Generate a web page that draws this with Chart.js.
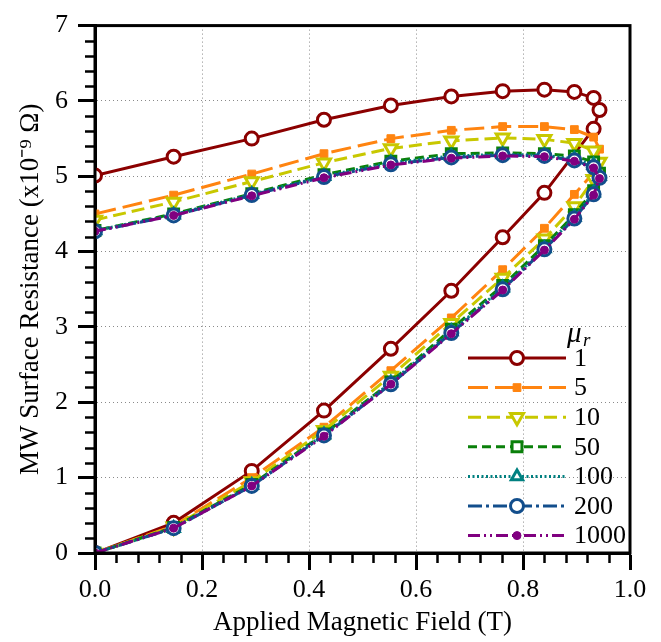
<!DOCTYPE html>
<html>
<head>
<meta charset="utf-8">
<title>MW surface resistance vs applied field</title>
<script src="https://cdn.jsdelivr.net/npm/chart.js@4.4.1/dist/chart.umd.min.js"></script>
<style>
  html, body { margin: 0; padding: 0; background: #fff; }
  #wrap { width: 661px; height: 642px; }
</style>
</head>
<body>
<div id="wrap"><canvas id="chart" width="661" height="642"></canvas></div>
<script>
// Field sweep: up the lower branch to the turning point, then back down the upper branch.
const FIELD = [0, 0.147, 0.293, 0.428, 0.553, 0.666, 0.762, 0.840, 0.896, 0.932, 0.943,
  0.932, 0.896, 0.840, 0.762, 0.666, 0.553, 0.428, 0.293, 0.147, 0];

const MU_R = ['1', '5', '10', '50', '100', '200', '1000'];

// Surface resistance (x1e-9 ohm), same order as FIELD
const RS_MU1 = [0, 0.40, 1.09, 1.89, 2.71, 3.48, 4.19, 4.78, null, 5.63, 5.88,
  6.04, 6.12, 6.15, 6.13, 6.06, 5.94, 5.75, 5.50, 5.26, 5.01];
const RS_MU5 = [0, 0.36, 1.00, 1.67, 2.42, 3.12, 3.76, 4.31, 4.76, 5.05, 5.36,
  5.52, 5.62, 5.66, 5.66, 5.61, 5.50, 5.30, 5.03, 4.75, 4.50];
const RS_MU10 = [0, 0.35, 0.95, 1.63, 2.35, 3.05, 3.65, 4.17, 4.60, 4.96, 5.19,
  5.34, 5.44, 5.49, 5.51, 5.47, 5.37, 5.18, 4.93, 4.66, 4.42];
const RS_MU50 = [0, 0.34, 0.91, 1.58, 2.27, 2.97, 3.55, 4.08, 4.49, 4.81, 5.04,
  5.19, 5.27, 5.30, 5.31, 5.30, 5.20, 5.02, 4.77, 4.50, 4.28];
const RS_MU100 = [0, 0.33, 0.90, 1.57, 2.26, 2.94, 3.52, 4.04, 4.46, 4.78, 5.00,
  5.15, 5.23, 5.28, 5.29, 5.27, 5.18, 5.00, 4.76, 4.49, 4.28];
const RS_MU200 = [0, 0.33, 0.89, 1.56, 2.24, 2.92, 3.50, 4.03, 4.44, 4.76, 4.98,
  5.12, 5.21, 5.27, 5.28, 5.25, 5.16, 4.99, 4.75, 4.48, 4.27];
const RS_MU1000 = [0, 0.33, 0.89, 1.55, 2.24, 2.91, 3.49, 4.02, 4.43, 4.75, 4.97,
  5.11, 5.20, 5.26, 5.27, 5.24, 5.15, 4.98, 4.74, 4.48, 4.27];

const SERIES = [RS_MU1, RS_MU5, RS_MU10, RS_MU50, RS_MU100, RS_MU200, RS_MU1000];

const X_TICKS = [0, 0.2, 0.4, 0.6, 0.8, 1.0];
const Y_TICKS = [0, 1, 2, 3, 4, 5, 6, 7];

// ── Styles ────────────────────────────────────────────────────────────────────
const SERIF = "'Liberation Serif', 'Times New Roman', serif";
const STYLES = [
  { color: '#8b0000', dash: [], point: 'circle', r: 6.5, open: true },
  { color: '#ff8410', dash: [20, 7], point: 'rect', r: 5.5, open: false },
  { color: '#c8c800', dash: [13, 6], point: 'triangle', r: 7.5, open: true, rot: 180 },
  { color: '#0a800a', dash: [9, 5], point: 'rect', r: 7, open: true },
  { color: '#008080', dash: [2, 2.5], point: 'triangle', r: 6.5, open: true },
  { color: '#124e8c', dash: [14, 4, 3, 4], point: 'circle', r: 6.5, open: true },
  { color: '#800080', dash: [12, 4, 2, 4, 2, 4], point: 'circle', r: 4, open: false },
];

const datasets = SERIES.map((ys, i) => {
  const s = STYLES[i];
  return {
    label: MU_R[i],
    data: FIELD.map((x, k) => ({ x, y: ys[k] })),
    borderColor: s.color,
    borderWidth: 3,
    borderDash: s.dash,
    pointStyle: s.point,
    pointRadius: s.r,
    pointRotation: s.rot || 0,
    pointBackgroundColor: s.open ? '#fff' : s.color,
    pointBorderColor: s.color,
    pointBorderWidth: s.open ? 3 : 1,
    spanGaps: true,
    tension: 0,
    order: SERIES.length - 1 - i,
  };
});

// minor ticks, black frame and the inset legend
const framePlugin = {
  id: 'frame',
  afterDraw(chart) {
    const { ctx, chartArea: a, scales: { x, y } } = chart;
    ctx.save();
    ctx.strokeStyle = '#000';
    ctx.lineWidth = 2.5;
    ctx.beginPath();
    for (let k = 1; k < 35; k++) {
      if (k % 5 === 0) continue;
      const py = Math.round(y.getPixelForValue(k * 0.2)) + 0.5;
      ctx.moveTo(a.left - 10, py); ctx.lineTo(a.left, py);
    }
    for (let k = 1; k < 25; k++) {
      if (k % 5 === 0) continue;
      const px = Math.round(x.getPixelForValue(k * 0.04)) + 0.5;
      ctx.moveTo(px, a.bottom); ctx.lineTo(px, a.bottom + 10);
    }
    ctx.stroke();
    ctx.lineWidth = 3;
    ctx.strokeRect(a.left, a.top, a.right - a.left, a.bottom - a.top);

    // legend
    const lx0 = a.right - 162, lx1 = a.right - 64, mx = a.right - 113, tx = a.right - 56;
    const top = a.bottom - 195, step = 29.6;
    ctx.fillStyle = '#000';
    ctx.textBaseline = 'middle';
    ctx.font = `italic 29px ${SERIF}`;
    ctx.fillText('\u03bc', a.right - 63, top - 24);
    ctx.font = `italic 19px ${SERIF}`;
    ctx.fillText('r', a.right - 47, top - 17);
    chart.data.datasets.forEach((ds, i) => {
      const yy = top + i * step;
      ctx.save();
      ctx.strokeStyle = ds.borderColor;
      ctx.lineWidth = ds.borderWidth;
      ctx.setLineDash(ds.borderDash);
      ctx.beginPath(); ctx.moveTo(lx0, yy); ctx.lineTo(lx1, yy); ctx.stroke();
      ctx.setLineDash([]);
      ctx.fillStyle = ds.pointBackgroundColor;
      ctx.strokeStyle = ds.pointBorderColor;
      ctx.lineWidth = ds.pointBorderWidth;
      Chart.helpers.drawPoint(ctx, { pointStyle: ds.pointStyle, radius: ds.pointRadius, rotation: ds.pointRotation, borderWidth: ds.pointBorderWidth }, mx, yy);
      ctx.restore();
      ctx.fillStyle = '#000';
      ctx.font = `26px ${SERIF}`;
      ctx.fillText(ds.label, tx, yy + 1);
    });
    ctx.restore();
  },
};

const gridCommon = {
  color: '#8a8a8a',
  lineWidth: 1,
  tickLength: 17,
  tickWidth: 3,
  tickColor: '#000',
  tickBorderDash: [],
};

new Chart(document.getElementById('chart'), {
  type: 'line',
  data: { datasets },
  options: {
    responsive: false,
    animation: false,
    events: [],
    layout: { padding: { top: 18, right: 31, left: 0, bottom: 0 } },
    plugins: { legend: { display: false }, tooltip: { enabled: false } },
    scales: {
      x: {
        type: 'linear', min: 0, max: 1,
        afterBuildTicks: (s) => { s.ticks = X_TICKS.map((v) => ({ value: v })); },
        afterFit: (s) => { s.height = 89; },
        grid: gridCommon,
        border: { display: true, color: '#000', width: 3, dash: [1, 3] },
        ticks: { color: '#000', padding: 5, font: { family: SERIF, size: 26 }, callback: (v) => v.toFixed(1) },
        title: { display: true, text: 'Applied Magnetic Field (T)', color: '#000', font: { family: SERIF, size: 27 }, padding: { top: 0, bottom: 3 } },
      },
      y: {
        type: 'linear', min: 0, max: 7,
        afterBuildTicks: (s) => { s.ticks = Y_TICKS.map((v) => ({ value: v })); },
        afterFit: (s) => { s.width = 95; },
        grid: gridCommon,
        border: { display: true, color: '#000', width: 3, dash: [1, 3] },
        ticks: { color: '#000', padding: 10, font: { family: SERIF, size: 26 } },
        title: { display: true, text: 'MW Surface Resistance (x10\u207b\u2079 \u03a9)', color: '#000', font: { family: SERIF, size: 27 }, padding: { top: 15, bottom: 0 } },
      },
    },
  },
  plugins: [framePlugin],
});
</script>
</body>
</html>
